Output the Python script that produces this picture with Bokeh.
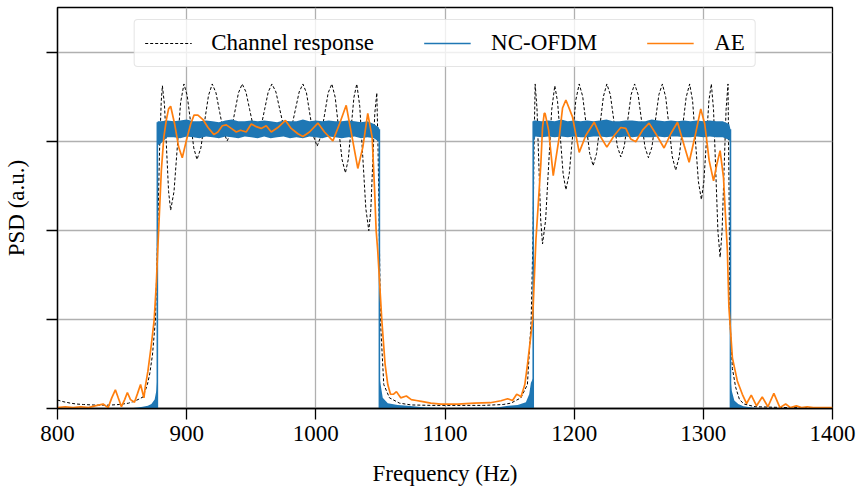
from bokeh.plotting import figure
from bokeh.models import Legend, LegendItem, FixedTicker, Range1d
from bokeh.embed import file_html
from bokeh.resources import INLINE

# ---------------- data ----------------
x_ticks = [800, 900, 1000, 1100, 1200, 1300, 1400]
y_ticks = [0, 1, 2, 3, 4]

# Channel response (dashed black)
ch_f = [800, 805, 810, 815, 820, 830, 840, 848, 855, 860, 863, 866.2, 869.6, 871.4, 873.5, 875.8,
        877.3, 879.0, 880.3, 881.2, 882.8, 884.4, 886.0, 887.6, 890.2, 892.75, 895.3, 897.9,
        900.4, 902.95, 905.5, 908.0, 911.0, 913.9, 916.9, 919.8, 922.7, 925.6, 928.5, 931.4,
        934.3, 937.2, 940.1, 943.0, 945.9, 948.8, 951.7, 954.6, 957.45, 960.3, 963.15, 966.0,
        969.1, 972.15, 975.2, 978.3, 981.2, 984.15, 987.1, 990.0, 992.75, 995.5, 998.25, 1001.0,
        1003.85, 1006.7, 1009.55, 1012.4, 1015.0, 1017.65, 1020.3, 1022.9, 1025.1, 1027.3, 1029.5,
        1031.7, 1034.0, 1036.35, 1038.7, 1041.0, 1042.55, 1044.1, 1045.65, 1047.2, 1048.2, 1049.2,
        1050.0, 1052.6, 1057.0, 1064.8, 1073.9, 1090, 1110, 1130, 1145, 1151, 1158.8, 1163.8,
        1166.7, 1168.2, 1169.0, 1169.8, 1171.2, 1172.65, 1174.1, 1175.5, 1177.9, 1180.25, 1182.6,
        1185.0, 1187.15, 1189.3, 1191.45, 1193.6, 1196.2, 1198.75, 1201.3, 1203.9, 1206.6, 1209.3,
        1212.0, 1214.7, 1217.35, 1220.0, 1222.65, 1225.3, 1228.0, 1230.7, 1233.4, 1236.1, 1238.8,
        1241.45, 1244.1, 1246.8, 1249.5, 1252.15, 1254.8, 1257.5, 1260.2, 1262.9, 1265.6, 1268.3,
        1270.9, 1273.45, 1276.0, 1278.6, 1281.3, 1284.0, 1286.7, 1289.4, 1291.7, 1293.95, 1296.2,
        1298.5, 1300.4, 1302.35, 1304.3, 1306.2, 1307.9, 1309.6, 1311.3, 1313.0, 1314.5, 1316.05,
        1317.6, 1319.1, 1320.0, 1320.6, 1322.5, 1325.0, 1328.0, 1331.5, 1340, 1360, 1380, 1400]
ch_psd = [0.095, 0.075, 0.06, 0.05, 0.045, 0.038, 0.038, 0.045, 0.06, 0.085, 0.105, 0.13, 0.27, 0.39, 0.6, 0.99,
          1.8, 2.9, 3.45, 3.63, 3.42, 2.93, 2.44, 2.23, 2.44, 2.94, 3.44, 3.65,
          3.52, 3.23, 2.93, 2.80, 2.93, 3.23, 3.52, 3.65, 3.55, 3.33, 3.11, 3.01,
          3.11, 3.33, 3.55, 3.65, 3.56, 3.36, 3.16, 3.07, 3.16, 3.36, 3.56, 3.65,
          3.56, 3.36, 3.16, 3.07, 3.16, 3.36, 3.56, 3.65, 3.55, 3.30, 3.06, 2.95,
          3.06, 3.30, 3.55, 3.65, 3.50, 3.15, 2.80, 2.65, 2.80, 3.15, 3.50,
          3.65, 3.40, 2.83, 2.25, 2.00, 2.23, 2.78, 3.32, 3.55, 2.9, 1.9,
          0.99, 0.27, 0.12, 0.06, 0.04, 0.035, 0.035, 0.035, 0.045, 0.06, 0.12, 0.27,
          0.99, 2.0, 3.0, 3.65, 3.38, 2.75, 2.12, 1.85, 2.12, 2.74, 3.36,
          3.63, 3.45, 3.05, 2.64, 2.46, 2.64, 3.06, 3.47, 3.65, 3.51, 3.19,
          2.87, 2.73, 2.87, 3.19, 3.51, 3.65, 3.53, 3.24, 2.95, 2.83, 2.95,
          3.24, 3.53, 3.65, 3.53, 3.24, 2.94, 2.82, 2.94, 3.24, 3.53, 3.65,
          3.50, 3.17, 2.83, 2.68, 2.83, 3.17, 3.50, 3.65, 3.46, 3.00, 2.55,
          2.35, 2.55, 3.00, 3.46, 3.65, 3.36, 2.68, 1.99, 1.70, 1.99, 2.68,
          3.36, 3.65, 2.3, 0.99, 0.45, 0.24, 0.10, 0.05, 0.02, 0.012, 0.008, 0.006]

# NC-OFDM: noisy band drawn as an envelope (lower / upper PSD)
nc_f = [800, 855, 862, 866, 870, 872.7, 875.2, 876.5, 877.2,
        877.3, 877.7,
        880, 885, 890, 895, 900, 905, 910, 915, 920, 925, 930, 935, 940, 945, 950, 955, 960,
        965, 970, 975, 980, 985, 990, 995, 1000, 1005, 1010, 1015, 1020, 1025, 1030, 1035,
        1040, 1045, 1048.8,
        1049.2, 1049.3, 1050.5, 1051.8, 1055.7, 1063.4, 1071, 1085, 1100, 1140, 1149, 1156.2,
        1162.6, 1165.2, 1166.5, 1168.2,
        1168.3, 1168.7,
        1170, 1175, 1180, 1185, 1190, 1195, 1200, 1205, 1210, 1215, 1220, 1225, 1230, 1235,
        1240, 1245, 1250, 1255, 1260, 1265, 1270, 1275, 1280, 1285, 1290, 1295, 1300, 1305,
        1310, 1315, 1320,
        1320.7, 1321.0, 1321.1, 1322, 1324, 1327, 1331, 1338, 1345, 1400]
nc_lo = [0, 0, 0, 0, 0, 0, 0, 0, 0,
         0, 2.96,
         2.98, 3.05, 3.05, 3.04, 3.06, 3.05, 3.04, 3.06, 3.05, 3.04, 3.06, 3.05, 3.04, 3.06, 3.05,
         3.04, 3.06, 3.04, 3.05, 3.06, 3.04, 3.05, 3.04, 3.06, 3.05, 3.04, 3.06, 3.05, 3.04, 3.05,
         3.06, 3.04, 3.05, 3.04, 3.00,
         0, 0, 0, 0, 0, 0, 0, 0, 0, 0, 0, 0, 0, 0, 0, 0,
         0, 3.0,
         3.06, 3.05, 3.06, 3.05, 3.06, 3.05, 3.06, 3.05, 3.05, 3.06, 3.06, 3.05, 3.06, 3.05, 3.06,
         3.05, 3.06, 3.05, 3.05, 3.06, 3.05, 3.06, 3.06, 3.05, 3.05, 3.06, 3.05, 3.06, 3.05, 3.05,
         3.02,
         3.0, 0, 0, 0, 0, 0, 0, 0, 0, 0]
nc_hi = [0, 0, 0.01, 0.02, 0.03, 0.05, 0.1, 0.2, 0.33,
         3.22, 3.23,
         3.23, 3.24, 3.23, 3.24, 3.25, 3.23, 3.23, 3.24, 3.23, 3.22, 3.24, 3.25, 3.23, 3.23, 3.24,
         3.23, 3.24, 3.23, 3.22, 3.24, 3.23, 3.23, 3.25, 3.23, 3.24, 3.23, 3.24, 3.23, 3.23, 3.24,
         3.23, 3.22, 3.23, 3.20, 3.16,
         3.14, 0.35, 0.24, 0.12, 0.06, 0.04, 0.03, 0.01, 0.005, 0.01, 0.03, 0.04, 0.07, 0.16, 0.29, 0.34,
         3.23, 3.24,
         3.24, 3.23, 3.24, 3.23, 3.25, 3.23, 3.24, 3.23, 3.24, 3.23, 3.24, 3.25, 3.23, 3.23, 3.24,
         3.24, 3.23, 3.23, 3.25, 3.24, 3.23, 3.24, 3.23, 3.24, 3.23, 3.24, 3.23, 3.24, 3.23, 3.23,
         3.20,
         3.16, 3.14, 0.33, 0.2, 0.09, 0.05, 0.025, 0.01, 0, 0]
nc_edge_f = [877.3, 1049.2, 1168.3, 1321.0]
nc_edge_base = [0, 0, 0, 0]
nc_edge_top = [3.22, 3.14, 3.23, 3.14]

# AE (orange)
ae_f = [800, 806, 812, 818, 824, 829, 835.3, 839.2, 842, 844.8, 847, 849.5, 852, 854.1, 856.5,
        859.6, 862, 864.3, 866.9, 868, 870, 872.5, 874.8, 876.5, 877.6, 878.6, 880.4, 882.3,
        884.2, 886, 887.6, 890.7, 893.8, 896.6, 899.7, 903.1, 905.7, 908.7, 912.6, 916.5, 921.1,
        924.2, 927.6, 930.7, 934.5, 938.4, 941.7, 946.1, 950, 953.9, 957.7, 961.6, 965.5, 970.6,
        976.5, 980.9, 986.1, 990, 995.1, 1001.6, 1006.7, 1013.2, 1018.3, 1023.5, 1028.1, 1032.5,
        1036.4, 1040.2, 1043.6, 1045.4, 1046.7, 1047.9, 1051.1, 1053.6, 1055.7, 1057.8, 1060,
        1062.4, 1065.7, 1070.1, 1073.9, 1077.8, 1081.7, 1089, 1096.9, 1109.8, 1122.7, 1135,
        1143.3, 1148.5, 1152.3, 1155.5, 1157, 1158.8, 1161.8, 1163.9, 1167.8, 1170.4, 1172.2,
        1174.2, 1175.5, 1176.8, 1177.5, 1180.2, 1183.8, 1188.4, 1191, 1193.6, 1198.7, 1203.9,
        1209, 1215.5, 1220.7, 1225.3, 1231, 1236.1, 1240, 1243.8, 1247.7, 1252.9, 1258, 1263.2,
        1269.6, 1274.8, 1280, 1285.1, 1289, 1293.4, 1298, 1301.1, 1304.5, 1307.9, 1310.5, 1313,
        1315.6, 1317.4, 1318.6, 1319.8, 1322.5, 1326.3, 1330.2, 1333.5, 1337.1, 1341.2, 1345.6,
        1350, 1354.6, 1359.3, 1363.7, 1367.5, 1372, 1376, 1380.4, 1385, 1390, 1400]
ae_psd = [0.01, 0.02, 0.01, 0.02, 0.01, 0.03, 0.05, 0.01, 0.12, 0.21, 0.12, 0.02, 0.1, 0.18, 0.1,
          0.07, 0.17, 0.27, 0.12, 0.25, 0.42, 0.7, 0.99, 1.4, 1.78, 2.1, 2.68, 3.05,
          3.24, 3.37, 3.40, 3.20, 2.94, 2.82, 3.01, 3.20, 3.30, 3.30, 3.25, 3.16, 3.08,
          3.11, 3.18, 3.19, 3.15, 3.11, 3.13, 3.11, 3.20, 3.17, 3.15, 3.18, 3.11, 3.16,
          3.24, 3.15, 3.09, 3.06, 3.11, 3.21, 3.11, 3.01, 3.20, 3.41, 3.05, 2.70,
          2.94, 3.32, 3.05, 2.49, 2.0, 1.78, 0.99, 0.5, 0.27, 0.16, 0.16,
          0.19, 0.12, 0.14, 0.1, 0.09, 0.08, 0.06, 0.05, 0.05, 0.06, 0.065,
          0.087, 0.11, 0.09, 0.16, 0.15, 0.13, 0.27, 0.5, 0.99, 1.9, 2.3,
          2.75, 3.16, 3.32, 3.32, 3.13, 2.62, 3.05, 3.38, 3.47, 3.28, 2.88,
          3.07, 3.22, 3.05, 2.94, 3.07, 3.16, 3.15, 3.03, 3.00, 3.13, 3.21, 3.09,
          2.93, 3.09, 3.22, 2.96, 2.77, 3.05, 3.37, 3.20, 2.79, 2.56, 2.75, 2.90,
          2.60, 2.1, 1.78, 1.14, 0.57, 0.31, 0.16, 0.056, 0.15, 0.03, 0.13,
          0.02, 0.17, 0.01, 0.05, 0.01, 0.03, 0.01, 0.02, 0.01, 0.01, 0.01]

# ---------------- styling ----------------
BLUE = "#1f77b4"
ORANGE = "#ff7f0e"
FONT = "Liberation Serif"

p = figure(width=859, height=489, output_backend="svg", toolbar_location=None,
           x_range=Range1d(800, 1400), y_range=Range1d(0, 4.51),
           min_border_left=56, min_border_right=27, min_border_top=7, min_border_bottom=81)
p.background_fill_color = "white"
p.border_fill_color = "white"
p.outline_line_color = "black"
p.outline_line_width = 1.3

r_ch = p.line(ch_f, ch_psd, line_color="black", line_width=1.0, line_dash="3 2")
p.varea(x=nc_f, y1=nc_lo, y2=nc_hi, fill_color=BLUE, fill_alpha=1.0)
r_nc = p.segment(x0=nc_edge_f, y0=nc_edge_base, x1=nc_edge_f, y1=nc_edge_top,
                 line_color=BLUE, line_width=1.6)
r_ae = p.line(ae_f, ae_psd, line_color=ORANGE, line_width=1.7)

for ax in (p.xaxis, p.yaxis):
    ax.axis_line_color = "black"
    ax.axis_line_width = 1.3
    ax.major_tick_line_color = "black"
    ax.major_tick_line_width = 1.3
    ax.major_tick_out = 11
    ax.major_tick_in = 0
    ax.minor_tick_line_color = None
    ax.axis_label_text_font = FONT
    ax.axis_label_text_font_size = "23px"
    ax.axis_label_text_font_style = "normal"
    ax.axis_label_text_color = "black"
    ax.major_label_text_font = FONT
    ax.major_label_text_font_size = "23px"
    ax.major_label_text_color = "black"

p.xaxis.ticker = FixedTicker(ticks=x_ticks)
p.yaxis.ticker = FixedTicker(ticks=y_ticks)
# y ticks carry no labels in the reference
p.yaxis.major_label_overrides = {t: "" for t in y_ticks}
p.yaxis.major_label_text_color = None
p.yaxis.major_label_standoff = 0
p.xaxis.major_label_standoff = 6
p.xaxis.axis_label = "Frequency (Hz)"
p.yaxis.axis_label = "PSD (a.u.)"
p.xaxis.axis_label_standoff = 17
p.yaxis.axis_label_standoff = 18

p.xgrid.ticker = FixedTicker(ticks=x_ticks)
p.ygrid.ticker = FixedTicker(ticks=y_ticks)
for g in (p.xgrid, p.ygrid):
    g.grid_line_color = "#b0b0b0"
    g.grid_line_width = 1.3

legend = Legend(items=[LegendItem(label="Channel response", renderers=[r_ch]),
                       LegendItem(label="NC-OFDM", renderers=[r_nc]),
                       LegendItem(label="AE", renderers=[r_ae])],
                orientation="horizontal", location="top_center")
legend.label_text_font = FONT
legend.label_text_font_size = "23px"
legend.label_text_color = "black"
legend.glyph_width = 47
legend.glyph_height = 24
legend.label_height = 24
legend.label_standoff = 20
legend.spacing = 50
legend.padding = 10
legend.margin = 12
legend.border_line_color = "#cccccc"
legend.border_line_width = 1.3
legend.background_fill_color = "white"
legend.background_fill_alpha = 0.8
if "border_radius" in Legend.properties():
    legend.border_radius = 4
p.add_layout(legend)

open("out.html", "w").write(file_html(p, INLINE))
